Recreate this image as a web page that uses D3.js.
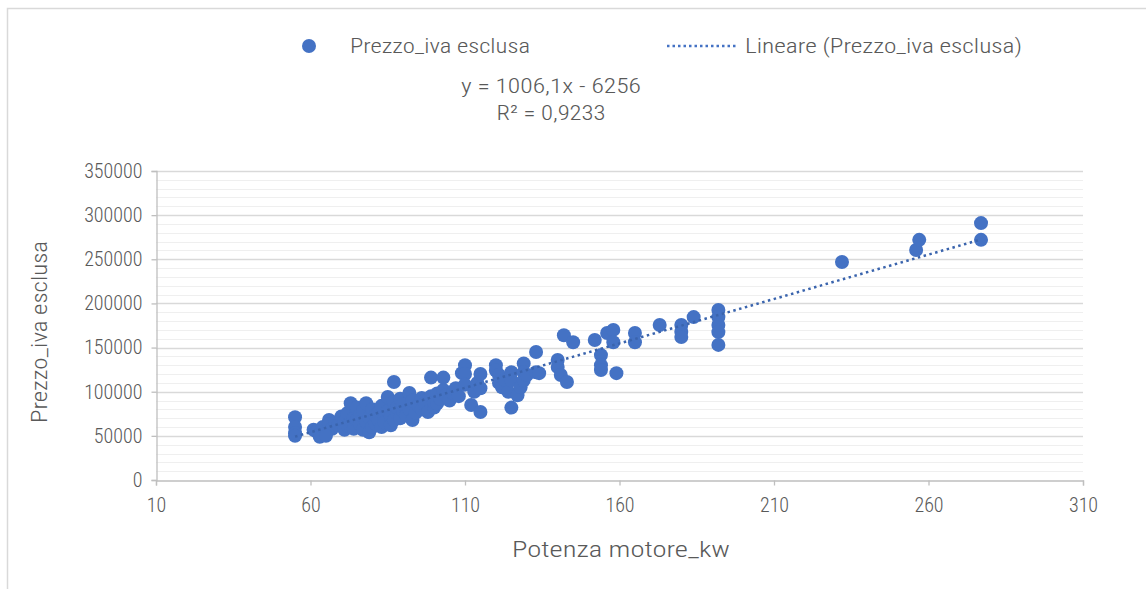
<!DOCTYPE html>
<html><head><meta charset="utf-8">
<script src="https://cdn.jsdelivr.net/npm/d3@7"></script>
<style>
html,body{margin:0;padding:0;background:#fff;}
svg{display:block;}
text{font-family:"Roboto Condensed","Liberation Sans Narrow","Open Sans",sans-serif;font-weight:300;}
</style></head>
<body>
<svg id="chart" width="1146" height="589"></svg>
<script>
const power = [
55,55,55,55,
61,62,63,63,64,65,66,66,67,65,68,69,
70,71,71,72,72,73,73,74,74,75,75,76,76,77,77,78,78,79,79,80,80,
81,81,82,82,83,83,84,84,85,85,86,86,87,87,87,88,88,89,89,90,90,91,92,92,93,93,94,95,
96,96,97,97,98,99,99,100,100,101,101,102,103,103,104,105,106,107,108,109,110,110,110,
112,113,114,115,115,115,120,120,121,121,122,123,124,125,125,125,127,128,129,129,129,130,
133,133,134,140,140,141,142,143,145,152,154,154,154,156,158,158,159,
165,165,173,180,180,180,184,192,192,192,192,192,
232,256,257,277,277];
const price = [
71000,60000,53000,50000,
57000,55000,52000,49000,60000,56000,68000,63000,58000,50000,65000,62000,
72000,66000,57000,62000,76000,87000,60000,70000,58000,68000,82000,63000,74000,57000,79000,66000,87000,71000,54000,60000,80000,
64000,73000,76000,68000,60000,84000,70000,65000,78000,94000,72000,62000,111000,68000,88000,75000,82000,70000,92000,78000,86000,73000,98500,80000,68000,90000,76000,84000,
80000,93000,90000,86000,77000,116000,95000,82000,88000,87000,98000,92000,116000,102000,96000,90000,98500,104000,95000,121000,130000,120000,108000,
85000,100000,110000,77000,120000,104000,130000,124000,119000,110000,105000,113000,100000,122000,113000,82000,96000,105000,132000,122000,113000,119000,
145000,122000,121000,136000,128000,119000,164000,111000,156000,158500,141500,130000,124500,166500,170000,156000,121000,
166500,156000,175500,175500,168000,162000,184500,192500,184500,175500,167500,153000,
247000,260500,272000,291000,272000];

const xTicks = [10,60,110,160,210,260,310];
const yTicks = [0,50000,100000,150000,200000,250000,300000,350000];
const slope = 1006.1, intercept = -6256;
const seriesName = "Prezzo_iva esclusa";
const trendName = "Lineare (Prezzo_iva esclusa)";
const eqText = "y = 1006,1x - 6256";
const r2Text = "R² = 0,9233";
const xTitle = "Potenza motore_kw";
const yTitle = "Prezzo_iva esclusa";

const blue = "#4472C4";
const grey = "#595959";
const svg = d3.select("#chart");
// chart border
svg.append("rect").attr("x",7.5).attr("y",8.5).attr("width",1200).attr("height",700)
  .attr("fill","none").attr("stroke","#d9d9d9").attr("stroke-width",1.5);

const x = d3.scaleLinear().domain([10,310]).range([156,1083]);
const y = d3.scaleLinear().domain([0,350000]).range([480,171]);

// minor gridlines
const minor = d3.range(10000,350001,10000).filter(v=>v%50000!==0);
svg.append("g").selectAll("line").data(minor).join("line")
  .attr("x1",x(10)).attr("x2",x(310)).attr("y1",d=>Math.round(y(d))+0.5).attr("y2",d=>Math.round(y(d))+0.5)
  .attr("stroke","#efefef").attr("stroke-width",1);
// major gridlines
svg.append("g").selectAll("line").data(yTicks.slice(1)).join("line")
  .attr("x1",x(10)).attr("x2",x(310)).attr("y1",d=>Math.round(y(d))+0.5).attr("y2",d=>Math.round(y(d))+0.5)
  .attr("stroke","#d9d9d9").attr("stroke-width",1.3);

// axes
const xAxis = d3.axisBottom(x).tickValues(xTicks).tickSize(5).tickPadding(12).tickFormat(d3.format("d"));
const gx = svg.append("g").attr("transform","translate(0,480.5)").call(xAxis);
const yAxis = d3.axisLeft(y).tickValues(yTicks).tickSize(5).tickPadding(9).tickFormat(d3.format("d"));
const gy = svg.append("g").attr("transform","translate(156.5,0)").call(yAxis);
[gx,gy].forEach(g=>{
  g.select(".domain").attr("stroke","#bfbfbf").attr("stroke-width",1.3);
  g.selectAll(".tick line").attr("stroke","#bfbfbf").attr("stroke-width",1.3);
  g.selectAll(".tick text").attr("fill",grey).style("font-size","20px")
   .style("font-family",'"Roboto Condensed","Liberation Sans Narrow","Open Sans",sans-serif').style("font-weight","300");
});

// points
svg.append("g").selectAll("circle").data(power.map((p,i)=>[p,price[i]])).join("circle")
  .attr("cx",d=>x(d[0])).attr("cy",d=>y(d[1])).attr("r",7).attr("fill",blue);

// trendline
const xmin = d3.min(power), xmax = d3.max(power);
svg.append("line").attr("x1",x(xmin)).attr("y1",y(slope*xmin+intercept))
  .attr("x2",x(xmax)).attr("y2",y(slope*xmax+intercept))
  .attr("stroke","#3a64ad").attr("stroke-width",2.5).attr("stroke-dasharray","2.5,3.5");

function label(parent, txt, xPos, yPos, size, len, anchor){
  return parent.append("text").attr("x",xPos).attr("y",yPos).attr("text-anchor",anchor||"start")
    .attr("fill",grey).style("font-size",size+"px")
    .attr("textLength",len).attr("lengthAdjust","spacingAndGlyphs").text(txt);
}

// axis titles
label(svg, xTitle, 621, 557, 22, 218, "middle");
const yt = svg.append("g").attr("transform","translate(47,332) rotate(-90)");
label(yt, yTitle, 0, 0, 22, 182, "middle");

// legend
svg.append("circle").attr("cx",309).attr("cy",46).attr("r",7).attr("fill",blue);
label(svg, seriesName, 350, 53, 20.5, 180);
svg.append("line").attr("x1",667).attr("x2",738).attr("y1",46).attr("y2",46)
  .attr("stroke",blue).attr("stroke-width",2.5).attr("stroke-dasharray","2.5,3");
label(svg, trendName, 745, 53, 20.5, 277);

// equation
label(svg, eqText, 551, 93, 20.5, 180, "middle");
label(svg, r2Text, 551, 120, 20.5, 109, "middle");
</script>
</body></html>
